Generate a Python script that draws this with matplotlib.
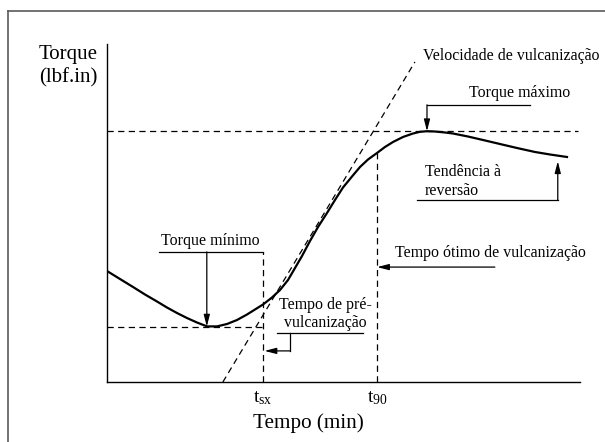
import matplotlib
matplotlib.use('Agg')
import matplotlib.pyplot as plt
from matplotlib.lines import Line2D

plt.rcParams['font.family'] = 'Liberation Serif'
plt.rcParams['mathtext.fontset'] = 'custom'
plt.rcParams['mathtext.rm'] = 'Liberation Serif'
plt.rcParams['mathtext.it'] = 'Liberation Serif:italic'

# cure curve (time vs torque, arbitrary units 0-100)
time = [0, 2.75, 5.50, 8.03, 10.57, 12.68, 14.80, 16.91, 19.03, 21.14, 23.26,
        25.37, 27.48, 29.60, 31.29, 32.98, 34.88, 36.58, 38.27, 39.75, 41.23,
        42.92, 44.61, 46.51, 48.20, 49.89, 51.80, 53.49, 55.18, 57.08, 58.77,
        60.47, 62.58, 64.69, 66.17, 67.65, 69.34, 71.46, 73.15, 76.32, 79.49,
        83.09, 86.68, 90.49, 93.66, 97.25]
torque = [32.84, 30.47, 28.11, 25.89, 23.82, 22.04, 20.41, 18.93, 17.60, 16.45, 16.45,
          17.16, 18.34, 19.97, 21.45, 22.93, 25.00, 27.22, 30.18, 33.73, 37.28,
          41.72, 45.86, 50.00, 53.85, 57.54, 60.80, 63.61, 65.83, 67.75, 69.53,
          71.01, 72.49, 73.52, 74.02, 74.20, 74.11, 73.82, 73.52, 72.63, 71.60,
          70.41, 69.23, 68.05, 67.31, 66.57]

t_min, torque_min = 21.1, 16.4
t_max, torque_max = 67.65, 74.2
t_sx = 33.0
t_90 = 57.1
torque_90 = 67.8

tangent_x = [24.5, 65.1]
tangent_y = [0, 94.7]

tick_pos = [t_sx, t_90]
tick_labels = [r'$\mathrm{t}_{\mathrm{sx}}$', r'$\mathrm{t}_{90}$']

fig = plt.figure(figsize=(6.05, 4.42), dpi=100)
ax = fig.add_axes([107/605, 1-382/442, 473/605, 338/442])
ax.set_xlim(0, 100)
ax.set_ylim(0, 100)
for s in ['top', 'right']:
    ax.spines[s].set_visible(False)
for s in ['left', 'bottom']:
    ax.spines[s].set_linewidth(1.0)
ax.set_yticks([])
ax.set_xticks(tick_pos)
ax.set_xticklabels(tick_labels, fontsize=14)
ax.tick_params(axis='x', length=0, pad=5)

dash = (0, (5, 3.5))
dlw = 0.9

ax.plot(time, torque, color='black', lw=1.6, solid_joinstyle='round')
ax.plot(tangent_x, tangent_y, color='black', lw=dlw, linestyle=dash)
ax.plot([0, 99.6], [torque_max, torque_max], color='black', lw=dlw, linestyle=dash)
ax.plot([0, t_sx], [torque_min, torque_min], color='black', lw=dlw, linestyle=dash)
ax.plot([t_sx, t_sx], [0, 38.5], color='black', lw=dlw, linestyle=dash)
ax.plot([t_90, t_90], [0, torque_90], color='black', lw=dlw, linestyle=dash)

arrow = dict(arrowstyle='-|>,head_length=0.7,head_width=0.18', color='black',
             lw=0.9, shrinkA=0, shrinkB=0)
small = 11.4

# Torque minimo
ax.plot([11.0, t_sx], [38.5, 38.5], color='black', lw=0.9)
ax.annotate('', xy=(t_min, torque_min), xytext=(t_min, 38.5), arrowprops=arrow)
ax.text(21.8, 41.7, 'Torque mínimo', fontsize=small, ha='center', va='center')

# Torque maximo
ax.plot([t_max, 89.4], [82.0, 82.0], color='black', lw=0.9)
ax.annotate('', xy=(t_max, torque_max), xytext=(t_max, 82.0), arrowprops=arrow)
ax.text(87.2, 85.5, 'Torque máximo', fontsize=small, ha='center', va='center')

# Tendencia a reversao
ax.plot([65.5, 95.3], [53.8, 53.8], color='black', lw=0.9)
ax.annotate('', xy=(95.3, 65.3), xytext=(95.3, 53.8), arrowprops=arrow)
ax.text(67.2, 59.3, 'Tendência à\nreversão', fontsize=small, ha='left', va='center',
        linespacing=1.25)

# Velocidade de vulcanizacao
ax.text(66.8, 96.4, 'Velocidade de vulcanização', fontsize=small, ha='left', va='center')

# Tempo otimo
ax.annotate('', xy=(t_90, 34.0), xytext=(82.0, 34.0), arrowprops=arrow)
ax.text(60.9, 38.2, 'Tempo ótimo de vulcanização', fontsize=small, ha='left', va='center')

# Tempo de pre-vulcanizacao
ax.plot([35.9, 54.1], [14.5, 14.5], color='black', lw=0.9)
ax.plot([38.7, 38.7], [14.5, 9.2], color='black', lw=0.9)
ax.annotate('', xy=(t_sx + 0.3, 9.2), xytext=(38.7, 9.2), arrowprops=arrow)
ax.text(46.1, 20.2, 'Tempo de pré-\nvulcanização', fontsize=small, ha='center',
        va='center', linespacing=1.2)

# axis labels
fig.text(98/605, 1-66/442, 'Torque\n(lbf.in)', fontsize=15, ha='right', va='center',
         multialignment='right', linespacing=1.3)
fig.text(308/605, 1-423/442, 'Tempo (min)', fontsize=15.2, ha='center', va='center')

# outer frame
fig.add_artist(Line2D([8/605, 1], [1-11/442, 1-11/442], color='#5a5a5a', lw=1.2,
                      transform=fig.transFigure))
fig.add_artist(Line2D([8/605, 8/605], [1-11/442, 0], color='#5a5a5a', lw=1.2,
                      transform=fig.transFigure))

fig.savefig('out.png', dpi=100)
